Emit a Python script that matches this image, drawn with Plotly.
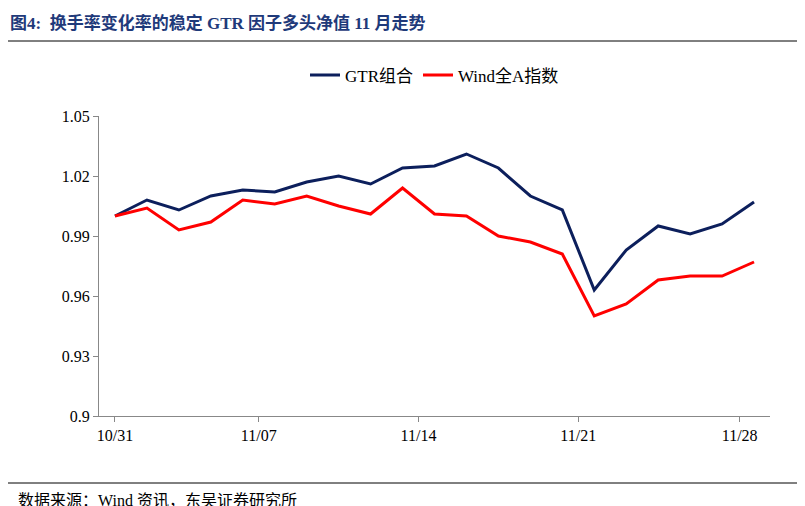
import plotly.graph_objects as go

dates = ["10/31", "11/01", "11/02", "11/03", "11/04", "11/07", "11/08", "11/09", "11/10", "11/11",
         "11/14", "11/15", "11/16", "11/17", "11/18", "11/21", "11/22", "11/23", "11/24", "11/25", "11/28"]
gtr = [1.000, 1.008, 1.003, 1.010, 1.013, 1.012, 1.017, 1.020, 1.016, 1.024, 1.025,
       1.031, 1.024, 1.010, 1.003, 0.963, 0.983, 0.995, 0.991, 0.996, 1.007]
wind = [1.000, 1.004, 0.993, 0.997, 1.008, 1.006, 1.010, 1.005, 1.001, 1.014, 1.001,
        1.000, 0.990, 0.987, 0.981, 0.950, 0.956, 0.968, 0.970, 0.970, 0.977]
tick_labels = ["10/31", "11/07", "11/14", "11/21", "11/28"]
tick_pos = [0, 4.5, 9.5, 14.5, 19.55]

idx = list(range(len(dates)))
font = "Times New Roman, Liberation Serif, Noto Sans CJK SC, serif"

fig = go.Figure()
fig.add_scatter(x=idx, y=gtr, mode="lines", name="GTR组合", line=dict(color="#0c1f5c", width=3))
fig.add_scatter(x=idx, y=wind, mode="lines", name="Wind全A指数", line=dict(color="#ff0000", width=3))

fig.update_layout(
    width=805, height=506, paper_bgcolor="white", plot_bgcolor="white",
    margin=dict(l=91, r=43, t=108, b=98, autoexpand=False),
    font=dict(family=font, size=16, color="black"),
    legend=dict(orientation="h", x=0.5, xanchor="center", y=1.135, yanchor="middle",
                font=dict(size=17), bgcolor="rgba(0,0,0,0)"),
    showlegend=True,
)
fig.update_xaxes(range=[-0.5, 20.5], tickvals=tick_pos, ticktext=tick_labels, showgrid=False,
                 showline=True, linecolor="#888", ticks="outside", tickcolor="#888", ticklen=5,
                 zeroline=False)
fig.update_yaxes(range=[0.9, 1.05], tickvals=[0.9, 0.93, 0.96, 0.99, 1.02, 1.05],
                 ticktext=["0.9", "0.93", "0.96", "0.99", "1.02", "1.05"], showgrid=False,
                 showline=True, linecolor="#888", ticks="outside", tickcolor="#888", ticklen=5,
                 zeroline=False)

fig.add_annotation(text="<b>图4:  换手率变化率的稳定 GTR 因子多头净值 11 月走势</b>", xref="paper", yref="paper",
                   x=-91/671, y=1 + 93/300, xanchor="left", yanchor="middle", showarrow=False,
                   font=dict(size=17, color="#1f3a7a", family=font))
fig.add_annotation(text="数据来源：Wind 资讯，东吴证券研究所", xref="paper", yref="paper",
                   x=-83/671, y=-84/300, xanchor="left", yanchor="middle", showarrow=False,
                   font=dict(size=16, color="black", family=font))
fig.add_shape(type="line", xref="paper", yref="paper", x0=-91/671, x1=1 + 43/671,
              y0=1 + 75/300, y1=1 + 75/300, line=dict(color="black", width=1))
fig.add_shape(type="line", xref="paper", yref="paper", x0=-91/671, x1=1 + 43/671,
              y0=-67/300, y1=-67/300, line=dict(color="black", width=1))

fig.write_html("out.html")
